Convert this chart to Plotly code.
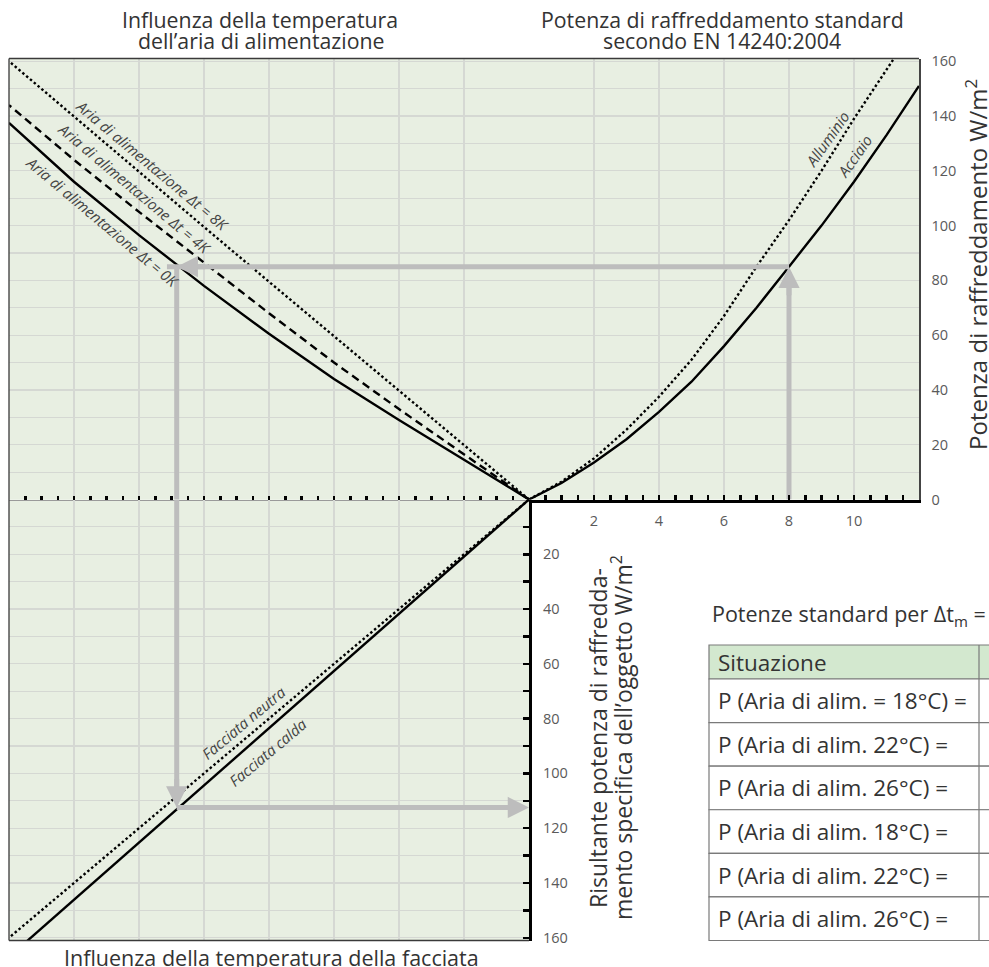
import plotly.graph_objects as go

# ---------------- data ----------------
# Top right: standard cooling power vs. temperature difference
dt_steel = [0, 1, 2, 3, 4, 5, 6, 7, 8, 9, 10, 11, 12]
p_steel = [0, 6, 13.5, 22, 32, 43, 56, 70, 85, 100, 116, 133, 151]
dt_alu = [0, 1, 2, 3, 4, 5, 6, 7, 8, 9, 10, 11, 11.2]
p_alu = [0, 6.5, 15, 25.5, 37.5, 51, 67, 85, 102, 120, 139, 157, 160.5]

# Top left: influence of supply-air temperature (effective power -> standard power)
p_eff = [0, 20, 40, 60, 80, 100, 120, 140, 160]
p_std_0k = [0, 14.5, 29, 44, 60.5, 78, 96.5, 116, 137.5]
p_std_4k = [0, 16.5, 33, 50, 68, 86.5, 105, 124, 144]
p_std_8k = [0, 19.8, 39.6, 59.5, 79.5, 99.5, 119.7, 139.8, 160]

# Bottom left: influence of facade temperature
fac_x = [0, 160]
fac_neutral = [0, 160]
fac_warm = [0, 167]

# worked example (grey arrows)
ex_dt = 8
ex_std = 85
ex_eff = 108.4
ex_obj = 112.4

# ticks
y_ticks = [0, 20, 40, 60, 80, 100, 120, 140, 160]
x_ticks = [2, 4, 6, 8, 10]
obj_ticks = [20, 40, 60, 80, 100, 120, 140, 160]

# table
table_title = "Potenze standard per Δt<sub>m</sub> ="
table_header = "Situazione"
table_rows = [
    "P (Aria di alim. = 18°C) =",
    "P (Aria di alim. 22°C) =",
    "P (Aria di alim. 26°C) =",
    "P (Aria di alim. 18°C) =",
    "P (Aria di alim. 22°C) =",
    "P (Aria di alim. 26°C) =",
]

# ---------------- layout constants ----------------
W, H = 989, 967
X_LEFT, X_MID, X_RIGHT = 9, 529, 919
Y_TOP, Y_MID, Y_BOT = 58.5, 499.5, 940.5

def fx(p):
    return p / W

def fy(p):
    return 1 - p / H

FONT = "Open Sans"
TXT = "#333333"
TICK = "#5a5a5a"
GREEN = "#e8efe2"
GRID = "#d5d8d3"
ARROW = "#bdbdbd"

fig = go.Figure()

def line(x, y, xa, ya, dash="solid", width=2.4, color="black"):
    fig.add_trace(go.Scatter(x=x, y=y, xaxis=xa, yaxis=ya, mode="lines",
                             line=dict(color=color, width=width, dash=dash),
                             hoverinfo="skip", showlegend=False))

# curves
line(dt_alu, p_alu, "x", "y", dash="2.5px,2.5px")
line(dt_steel, p_steel, "x", "y")
line(p_eff, p_std_8k, "x2", "y", dash="2.5px,2.5px")
line(p_eff, p_std_4k, "x2", "y", dash="8px,5px")
line(p_eff, p_std_0k, "x2", "y")
line(fac_x, fac_neutral, "x2", "y2", dash="2.5px,2.5px")
line(fac_x, fac_warm, "x2", "y2")

# grey arrow shafts (the worked example), heads added as annotations
back_y = 3    # shaft stops a little inside the arrow head (data units)
back_x = 3
line([ex_dt, ex_dt], [0, ex_std - back_y], "x", "y", width=5, color=ARROW)
line([ex_dt, 0], [ex_std, ex_std], "x", "y", width=5, color=ARROW)
line([0, ex_eff + back_x], [ex_std, ex_std], "x2", "y", width=5, color=ARROW)
line([ex_eff, ex_eff], [ex_std, 0], "x2", "y", width=5, color=ARROW)
line([ex_eff, ex_eff], [0, ex_obj - back_y], "x2", "y2", width=5, color=ARROW)
line([ex_eff, back_x], [ex_obj, ex_obj], "x2", "y2", width=5, color=ARROW)

annotations = []

def head(x, y, xr, yr, ax, ay):
    annotations.append(dict(x=x, y=y, xref=xr, yref=yr, ax=ax, ay=ay,
                            text="", showarrow=True, arrowhead=2, arrowsize=0.85,
                            arrowwidth=5, arrowcolor=ARROW, standoff=0))

head(ex_dt, ex_std, "x", "y", 0, 30)       # pointing up
head(ex_eff, ex_std, "x2", "y", 30, 0)     # pointing left
head(ex_eff, ex_obj, "x2", "y2", 0, -30)   # pointing down
head(0, ex_obj, "x2", "y2", -30, 0)        # pointing right

# curve labels
def label(text, x, y, xr, yr, angle):
    annotations.append(dict(x=x, y=y, xref=xr, yref=yr, text="<i>" + text + "</i>",
                            showarrow=False, textangle=angle,
                            font=dict(family=FONT, size=15, color="#444444")))

label("Aria di alimentazione Δt = 8K", 116, 122.1, "x2", "y", 40)
label("Aria di alimentazione Δt = 4K", 121.5, 113.7, "x2", "y", 40)
label("Aria di alimentazione Δt = 0K", 131.1, 101.3, "x2", "y", 40)
label("Alluminio", 9.18, 131.5, "x", "y", -55)
label("Acciaio", 10.02, 125.3, "x", "y", -55)
label("Facciata neutra", 88, 81.6, "x2", "y2", -40)
label("Facciata calda", 80.3, 92.2, "x2", "y2", -40)

# titles
def ptext(text, x, y, size=21.3, angle=0, xanchor="center", yanchor="middle", color=TXT):
    annotations.append(dict(x=fx(x), y=fy(y), xref="paper", yref="paper", text=text,
                            showarrow=False, textangle=angle, xanchor=xanchor,
                            yanchor=yanchor, align="center",
                            font=dict(family=FONT, size=size, color=color)))

ptext("Influenza della temperatura", 260, 19)
ptext("dell’aria di alimentazione", 261, 40)
ptext("Potenza di raffreddamento standard", 722, 19)
ptext("secondo EN 14240:2004", 722, 40)
ptext("Influenza della temperatura della facciata", 271, 957, size=21.5)
ptext("Potenza di raffreddamento W/m<sup>2</sup>", 977, 265, size=24, angle=-90)
ptext("Risultante potenza di raffredda-", 598, 738, size=23, angle=-90)
ptext("mento specifica dell’oggetto W/m<sup>2</sup>", 622, 738, size=23, angle=-90)

# table
ptext(table_title, 710, 615, size=21.5, xanchor="left")
shapes = []
TB_L, TB_R, TB_DIV = 709, 1100, 979
TB_HEAD_T, TB_HEAD_B = 645, 679
row_h = (Y_BOT - TB_HEAD_B) / len(table_rows)
shapes.append(dict(type="rect", xref="paper", yref="paper", x0=fx(TB_L), x1=fx(TB_R),
                   y0=fy(TB_HEAD_B), y1=fy(TB_HEAD_T), fillcolor="#d3e8cf",
                   line=dict(color="#7a7a7a", width=1.2)))
ptext(table_header, 716, (TB_HEAD_T + TB_HEAD_B) / 2, size=22.5, xanchor="left")
for i, r in enumerate(table_rows):
    top = TB_HEAD_B + i * row_h
    shapes.append(dict(type="rect", xref="paper", yref="paper", x0=fx(TB_L), x1=fx(TB_R),
                       y0=fy(top + row_h), y1=fy(top), fillcolor="white",
                       line=dict(color="#7a7a7a", width=1.2)))
    ptext(r, 716, top + row_h / 2, size=22.5, xanchor="left")
shapes.append(dict(type="line", xref="paper", yref="paper", x0=fx(TB_DIV), x1=fx(TB_DIV),
                   y0=fy(Y_BOT), y1=fy(TB_HEAD_T), line=dict(color="#7a7a7a", width=1.2)))

# quadrant backgrounds
for xr, yr in [("x", "y"), ("x2", "y"), ("x2", "y2")]:
    shapes.append(dict(type="rect", xref=xr + " domain", yref=yr + " domain",
                       x0=0, x1=1, y0=0, y1=1, fillcolor=GREEN, line=dict(width=0),
                       layer="below"))
# outer frame
FR = dict(color="#3a3a3a", width=1.3)
shapes.append(dict(type="line", xref="paper", yref="paper", x0=fx(X_LEFT), x1=fx(X_RIGHT),
                   y0=fy(Y_TOP), y1=fy(Y_TOP), line=FR))
shapes.append(dict(type="line", xref="paper", yref="paper", x0=fx(X_LEFT), x1=fx(X_LEFT),
                   y0=fy(Y_BOT), y1=fy(Y_TOP), line=FR))
shapes.append(dict(type="line", xref="paper", yref="paper", x0=fx(X_LEFT), x1=fx(X_MID),
                   y0=fy(Y_BOT), y1=fy(Y_BOT), line=FR))

tickfont = dict(family=FONT, size=14.5, color=TICK)

fig.update_layout(
    width=W, height=H, margin=dict(l=0, r=0, t=0, b=0, pad=0, autoexpand=False),
    paper_bgcolor="white", plot_bgcolor="rgba(0,0,0,0)",
    showlegend=False, shapes=shapes, annotations=annotations,
    xaxis=dict(domain=[fx(X_MID), fx(X_RIGHT)], range=[0, 12], anchor="y",
               automargin=False,
               showline=True, linecolor="black", linewidth=3,
               tickmode="array", tickvals=x_ticks, ticks="inside", ticklen=5,
               tickwidth=2.5, tickcolor="black", tickfont=tickfont,
               ticklabelstandoff=6,
               showgrid=True, gridcolor=GRID, gridwidth=1.2, zeroline=False,
               minor=dict(dtick=0.5, tick0=0, ticks="inside", ticklen=5, tickwidth=2.5,
                          tickcolor="black", showgrid=False)),
    yaxis=dict(domain=[fy(Y_MID), fy(Y_TOP)], range=[0, 161], anchor="x", side="right",
               automargin=False,
               showline=True, linecolor="#444444", linewidth=1.5,
               tickmode="array", tickvals=y_ticks, ticks="", tickfont=tickfont,
               ticklabelstandoff=8,
               showgrid=True, gridcolor=GRID, gridwidth=1.2, zeroline=False,
               minor=dict(dtick=10, tick0=0, showgrid=True, gridcolor=GRID, gridwidth=1.2)),
    yaxis3=dict(range=[0, 161], overlaying="y", anchor="x", side="left",
                automargin=False,
                showline=True, linecolor="black", linewidth=3,
                tickmode="linear", tick0=0, dtick=10, ticks="inside", ticklen=6,
                tickwidth=2.5, tickcolor="black", showticklabels=False,
                showgrid=False, zeroline=False),
    xaxis2=dict(domain=[fx(X_LEFT), fx(X_MID)], range=[160, 0], anchor="y",
                automargin=False,
                showline=True, linecolor="#9a9a9a", linewidth=1.2,
                tickmode="linear", tick0=0, dtick=20, ticks="inside", ticklen=4,
                tickwidth=2.5, tickcolor="black", showticklabels=False,
                showgrid=True, gridcolor=GRID, gridwidth=1.2, zeroline=False,
                minor=dict(dtick=5, tick0=0, ticks="inside", ticklen=4, tickwidth=2.5,
                           tickcolor="black", showgrid=False)),
    yaxis2=dict(domain=[fy(Y_BOT), fy(Y_MID)], range=[161, 0], anchor="x2", side="right",
                automargin=False,
                showline=True, linecolor="black", linewidth=3,
                tickmode="array", tickvals=obj_ticks, ticks="inside", ticklen=6,
                tickwidth=2.5, tickcolor="black", tickfont=tickfont,
                ticklabelstandoff=8,
                showgrid=True, gridcolor=GRID, gridwidth=1.2, zeroline=False,
                minor=dict(dtick=10, tick0=0, ticks="inside", ticklen=6, tickwidth=2.5,
                           tickcolor="black", showgrid=True, gridcolor=GRID, gridwidth=1.2)),
)

fig.write_html("out.html", config={"displayModeBar": False, "staticPlot": True},
               post_script="document.body.style.margin='0';document.body.style.overflow='hidden';")
